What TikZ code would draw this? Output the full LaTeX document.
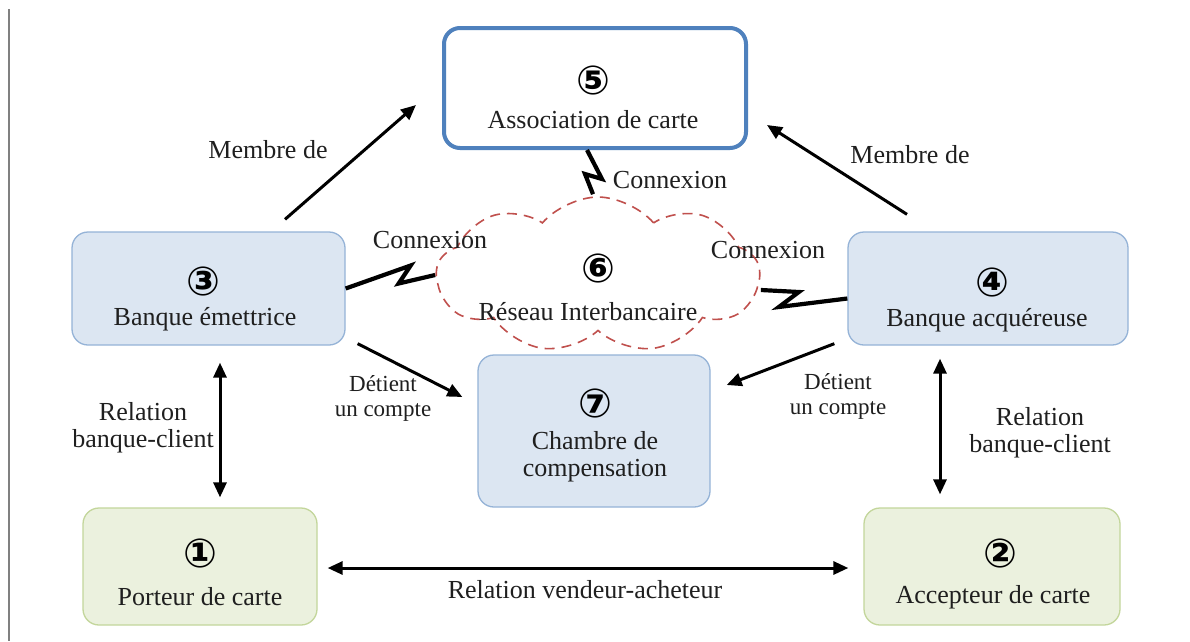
\documentclass[tikz,border=0pt]{standalone}
\usepackage{fontspec}
\setmainfont{Liberation Serif}
\newfontfamily\circfont{DejaVu Sans}
\usetikzlibrary{arrows.meta,shapes.symbols}
\definecolor{boxblue}{HTML}{DCE6F2}
\definecolor{edgeblue}{HTML}{95B3D7}
\definecolor{assocblue}{HTML}{4F81BD}
\definecolor{boxgreen}{HTML}{EBF1DE}
\definecolor{edgegreen}{HTML}{C3D69B}
\definecolor{cloudred}{HTML}{C0504D}
\newcommand{\cnum}[1]{{\circfont\bfseries\fontsize{40}{42}\selectfont #1}}
\tikzset{
  bluebox/.style={draw=edgeblue, fill=boxblue, line width=1.3pt, rounded corners=16pt, inner sep=0pt},
  greenbox/.style={draw=edgegreen, fill=boxgreen, line width=1.3pt, rounded corners=16pt, inner sep=0pt},
  assocbox/.style={draw=assocblue, fill=white, line width=4pt, rounded corners=16pt, inner sep=0pt},
  lbl/.style={font=\fontsize{26}{27}\selectfont, align=center, inner sep=0pt, text=black!88},
  sml/.style={font=\fontsize{23}{25}\selectfont, align=center, inner sep=0pt, text=black!88},
  num/.style={inner sep=0pt},
  arr/.style={-{Triangle[length=15pt,width=13pt]}, line width=3pt},
  darr/.style={{Triangle[length=15pt,width=13pt]}-{Triangle[length=15pt,width=13pt]}, line width=3pt},
  bolt/.style={line width=4.2pt, line join=miter},
  netcloud/.style={cloud, cloud puffs=9, cloud puff arc=100, cloud ignores aspect, draw=cloudred, dashed, dash pattern=on 10pt off 7pt, line width=1.6pt, minimum width=323pt, minimum height=156pt, inner sep=0pt}
}
\begin{document}
\begin{tikzpicture}[x=1pt,y=-1pt]
\useasboundingbox (0,0) rectangle (1190,641);
\fill[white] (0,0) rectangle (1190,641);
\draw[gray, line width=2pt] (8.5,9) -- (8.5,641);

% cloud
\node[netcloud] (c6) at (598,275) {};

% boxes
\node[assocbox, minimum width=302pt, minimum height=120pt] (b5) at (595,88) {};
\node[bluebox, minimum width=273pt, minimum height=113pt] (b3) at (208.5,288.5) {};
\node[bluebox, minimum width=280pt, minimum height=113pt] (b4) at (988,288.5) {};
\node[bluebox, minimum width=232pt, minimum height=152pt] (b7) at (594,431) {};
\node[greenbox, minimum width=234pt, minimum height=117pt] (b1) at (200,566.5) {};
\node[greenbox, minimum width=256pt, minimum height=117pt] (b2) at (992,566.5) {};

% box texts
\node[num] (t5a) at (593,80) {\cnum{⑤}};
\node[lbl] (t5b) at (593,120) {Association de carte};
\node[num] (t3a) at (203,281) {\cnum{③}};
\node[lbl] (t3b) at (205,319) {Banque émettrice};
\node[num] (t4a) at (992,282) {\cnum{④}};
\node[lbl] (t4b) at (987,320) {Banque acquéreuse};
\node[num] (t6a) at (598,268) {\cnum{⑥}};
\node[lbl] (t6b) at (588,312) {Réseau Interbancaire};
\node[num] (t7a) at (595,403) {\cnum{⑦}};
\node[lbl] (t7b) at (595,457) {Chambre de\\compensation};
\node[num] (t1a) at (200,553) {\cnum{①}};
\node[lbl] (t1b) at (200,597) {Porteur de carte};
\node[num] (t2a) at (1000,553) {\cnum{②}};
\node[lbl] (t2b) at (993,597) {Accepteur de carte};

% arrows
\draw[arr] ([xshift=76.5pt,yshift=12pt]b3.north) -- ([xshift=-26pt,yshift=-17pt]b5.west);
\draw[arr] ([xshift=-81pt,yshift=17pt]b4.north) -- ([xshift=19pt,yshift=-37pt]b5.east);
\draw[arr] ([xshift=12pt,yshift=2pt]b3.south east) -- ([xshift=-15pt,yshift=34pt]b7.west);
\draw[arr] ([xshift=-13pt,yshift=2pt]b4.south west) -- ([xshift=16pt,yshift=46pt]b7.east);
\draw[darr] ([xshift=11.5pt,yshift=-17pt]b3.south) -- ([xshift=20pt,yshift=10pt]b1.north);
\draw[darr] ([xshift=-48pt,yshift=-13pt]b4.south) -- ([xshift=-52pt,yshift=13pt]b2.north);
\draw[darr] ([xshift=10pt,yshift=-1.5pt]b1.east) -- ([xshift=-15pt,yshift=-1.5pt]b2.west);

% lightning connections
\draw[bolt] ([xshift=-8pt]b5.south) -- ++(15,29) -- ++(-17,-5) -- ([xshift=-5pt,yshift=2pt]c6.north);
\draw[bolt] (b3.east) -- ++(65,-23) -- ++(-12,18) -- (c6.west);
\draw[bolt] ([yshift=-15pt]c6.east) -- ++(38,2) -- ++(-20,15) -- ([yshift=-10pt]b4.west);

% labels
\node[lbl] (lm1) at (268,150) {Membre de};
\node[lbl] (lm2) at (910,155) {Membre de};
\node[lbl] (lc1) at (670,180) {Connexion};
\node[lbl] (lc2) at (430,240) {Connexion};
\node[lbl] (lc3) at (768,250) {Connexion};
\node[sml] (ld1) at (383,398) {Détient\\un compte};
\node[sml] (ld2) at (838,396) {Détient\\un compte};
\node[lbl] (lr1) at (143,428) {Relation\\banque-client};
\node[lbl] (lr2) at (1040,433) {Relation\\banque-client};
\node[lbl] (lv) at (585,590) {Relation vendeur-acheteur};
\end{tikzpicture}
\end{document}
